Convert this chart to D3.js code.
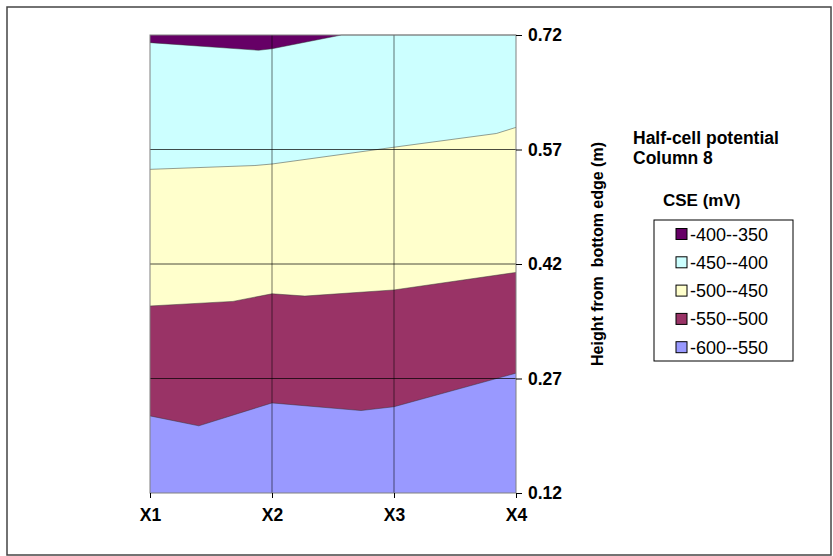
<!DOCTYPE html>
<html><head><meta charset="utf-8">
<script src="https://cdn.jsdelivr.net/npm/d3@7"></script>
<style>body{margin:0;background:#fff}svg{display:block}text{font-family:"Liberation Sans",Arial,sans-serif}</style>
</head><body><svg id="c" width="833" height="556"></svg>
<script>
// Categories (x positions) and height tick labels
const categories = ["X1","X2","X3","X4"];
const heightTicks = [0.12,0.27,0.42,0.57,0.72];
// Contour bands (legend, top to bottom)
const bandLabels = ["-400--350","-450--400","-500--450","-550--500","-600--550"];
const bandColors = ["#660066","#CCFFFF","#FFFFCC","#993366","#9999FF"];
// Contour boundaries: [x position (0=X1..3=X4), height (m)]
const b400 = [[0,0.710],[0.89,0.700],[1,0.702],[1.57,0.72],[3,0.72]];
const b450 = [[0,0.544],[0.86,0.549],[1,0.551],[2,0.573],[2.84,0.591],[3,0.599]];
const b500 = [[0,0.365],[0.68,0.371],[1,0.381],[1.27,0.378],[2,0.386],[3,0.409]];
const b550 = [[0,0.221],[0.40,0.208],[1,0.238],[1.73,0.228],[2,0.233],[3,0.277]];
const boundaries = [b400,b450,b500,b550];

const svg = d3.select("#c");
const L=150,R=516,T=35,B=493;
const x = d3.scaleLinear().domain([0,3]).range([L,R]);
const y = d3.scaleLinear().domain([0.12,0.72]).range([B,T]);

// outer frame
svg.append("rect").attr("x",7).attr("y",7).attr("width",824).attr("height",548)
  .attr("fill","#fff").attr("stroke","#444").attr("stroke-width",1.5);

// base band (top colour) fills whole plot
svg.append("rect").attr("x",L).attr("y",T).attr("width",R-L).attr("height",B-T).attr("fill",bandColors[0]);
const area = d3.area().x(d=>x(d[0])).y0(y(0.12)).y1(d=>y(d[1]));
boundaries.forEach((b,i)=>{
  svg.append("path").datum(b).attr("d",area).attr("fill",bandColors[i+1]);
});
const line = d3.line().x(d=>x(d[0])).y(d=>y(d[1]));
boundaries.forEach(b=>{
  svg.append("path").datum(b).attr("d",line).attr("fill","none").attr("stroke","#333").attr("stroke-width",0.6).attr("stroke-opacity",0.8);
});

// gridlines
const gx = svg.append("g");
[1,2].forEach(i=>gx.append("line").attr("x1",x(i)).attr("x2",x(i)).attr("y1",T).attr("y2",B).attr("stroke","#000").attr("stroke-opacity",0.55));
heightTicks.slice(1,4).forEach(h=>gx.append("line").attr("x1",L).attr("x2",R).attr("y1",y(h)).attr("y2",y(h)).attr("stroke","#000").attr("stroke-opacity",0.7));
// plot border
svg.append("rect").attr("x",L).attr("y",T).attr("width",R-L).attr("height",B-T).attr("fill","none").attr("stroke","#808080").attr("stroke-width",1);

// right axis
const yAxis = d3.axisRight(y).tickValues(heightTicks).tickFormat(d3.format(".2f")).tickSize(6).tickPadding(6);
const ya = svg.append("g").attr("transform",`translate(${R},0)`).call(yAxis);
ya.select(".domain").remove();
ya.selectAll("line").attr("stroke","#000");
ya.selectAll("text").attr("font-size",17.5).attr("font-weight","bold").attr("fill","#000").attr("font-family","Liberation Sans, Arial, sans-serif");

// bottom axis
const xb = d3.scalePoint().domain(categories).range([L,R]);
const xAxis = d3.axisBottom(xb).tickSize(5).tickPadding(11);
const xa = svg.append("g").attr("transform",`translate(0,${B})`).call(xAxis);
xa.select(".domain").remove();
xa.selectAll("line").attr("stroke","#000");
xa.selectAll("text").attr("font-size",17.5).attr("font-weight","bold").attr("fill","#000").attr("font-family","Liberation Sans, Arial, sans-serif");

// y axis title
svg.append("text").attr("transform","translate(603,254) rotate(-90)").attr("text-anchor","middle")
  .attr("font-size",16).attr("font-weight","bold").style("white-space","pre").text("Height from  bottom edge (m)");

// titles
svg.append("text").attr("x",633).attr("y",144).attr("font-size",17.5).attr("font-weight","bold").text("Half-cell potential");
svg.append("text").attr("x",633).attr("y",164).attr("font-size",17.5).attr("font-weight","bold").text("Column 8");
svg.append("text").attr("x",663).attr("y",206).attr("font-size",17).attr("font-weight","bold").text("CSE (mV)");

// legend
svg.append("rect").attr("x",654).attr("y",220).attr("width",139).attr("height",141).attr("fill","#fff").attr("stroke","#000").attr("stroke-width",1);
const lg = svg.append("g").selectAll("g").data(bandLabels).join("g")
  .attr("transform",(d,i)=>`translate(676,${234+i*28.3})`);
lg.append("rect").attr("x",0).attr("y",-5.5).attr("width",11).attr("height",11)
  .attr("fill",(d,i)=>bandColors[i]).attr("stroke","#000").attr("stroke-width",1);
lg.append("text").attr("x",14).attr("y",6.5).attr("font-size",18).text(d=>d);
</script></body></html>
